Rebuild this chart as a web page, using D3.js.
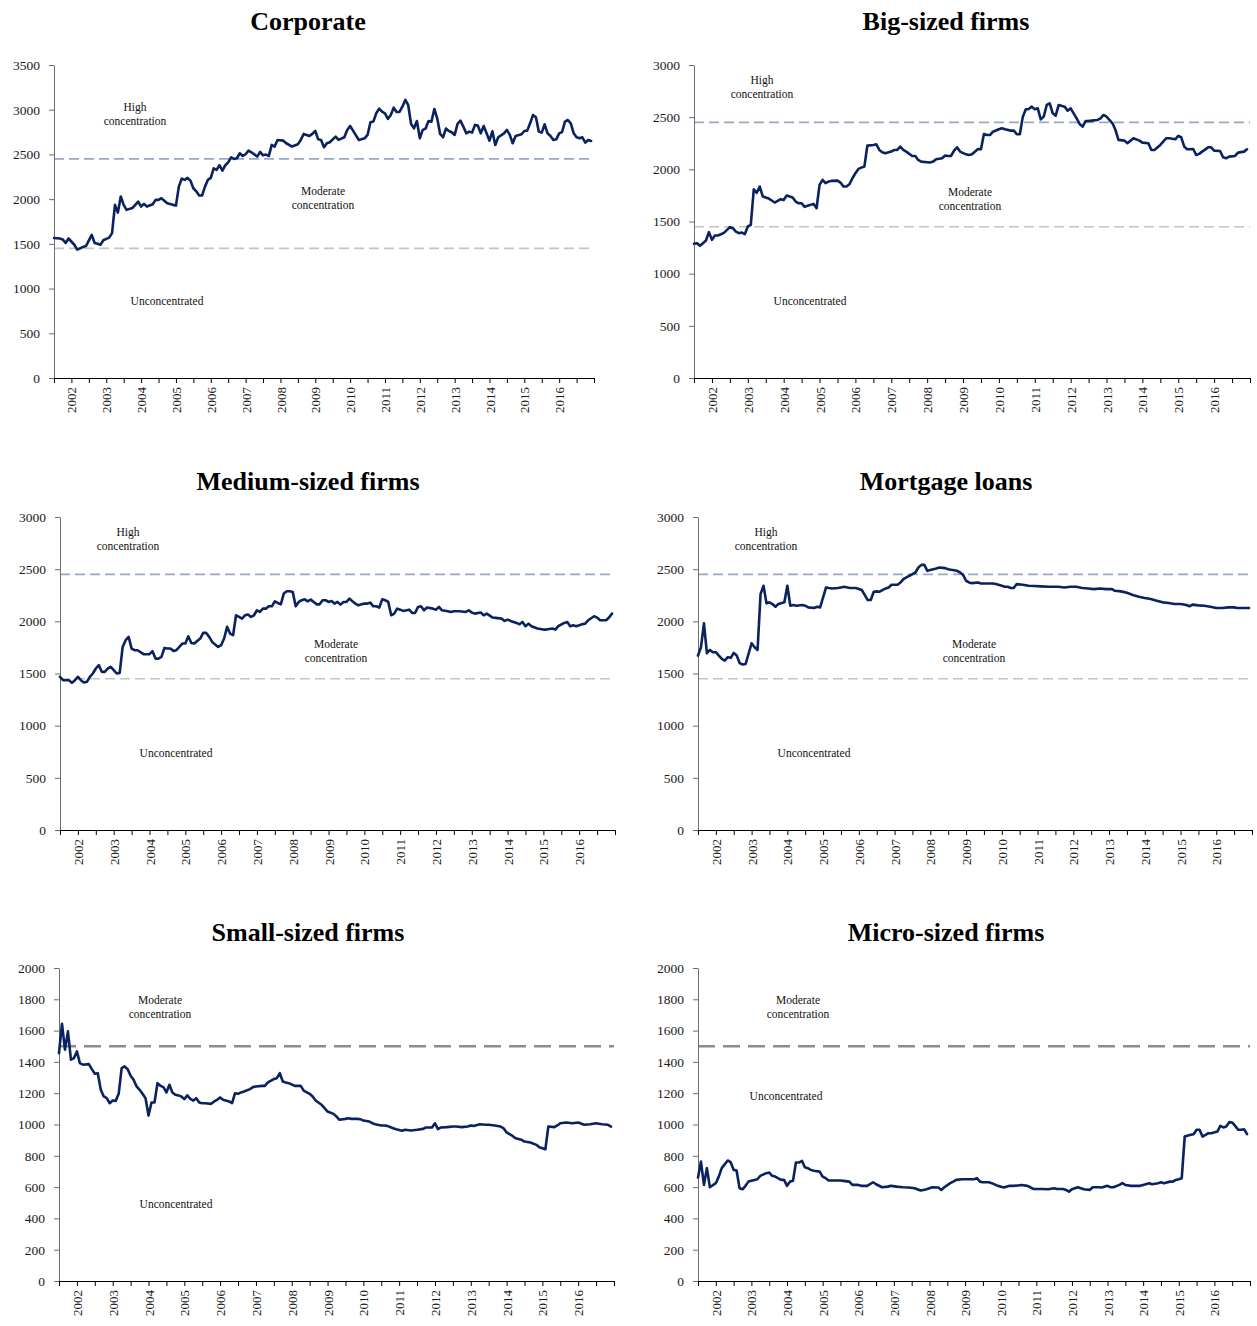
<!DOCTYPE html>
<html>
<head>
<meta charset="utf-8">
<script src="https://cdn.jsdelivr.net/npm/d3@7"></script>
<style>
  body { margin: 0; background: #fff; }
  svg { display: block; }
</style>
</head>
<body>
<svg id="chart" width="1257" height="1326"></svg>
<script>
// Monthly Herfindahl-Hirschman index by credit portfolio, July 2001 – December 2016.
// Each point is [months since July 2001, index value].
const monthCount = 186;
const yearLabels = [2002, 2003, 2004, 2005, 2006, 2007, 2008, 2009, 2010, 2011, 2012, 2013, 2014, 2015, 2016];

const corporate = [[0,1565],[2,1560],[3,1550],[4,1510],[5,1560],[7,1490],[8,1435],[10,1465],[11,1475],[13,1600],[14,1510],[15,1500],[16,1490],[17,1540],[18,1556],[19,1570],[20,1620],[21,1936],[22,1850],[23,2030],[24,1936],[25,1880],[27,1900],[29,1973],[30,1917],[31,1947],[32,1917],[34,1943],[35,1992],[36,1992],[37,2010],[39,1955],[41,1936],[42,1928],[43,2140],[44,2230],[45,2215],[46,2237],[47,2207],[48,2122],[49,2088],[50,2040],[51,2040],[52,2140],[53,2215],[54,2237],[55,2345],[56,2327],[57,2379],[58,2320],[59,2379],[60,2412],[61,2468],[62,2450],[63,2457],[64,2513],[65,2483],[66,2502],[67,2543],[68,2524],[70,2476],[71,2528],[72,2490],[73,2498],[74,2483],[75,2606],[76,2588],[77,2662],[79,2654],[80,2625],[82,2588],[84,2614],[85,2662],[86,2729],[88,2707],[89,2729],[90,2762],[91,2669],[92,2662],[93,2580],[94,2625],[95,2636],[97,2699],[98,2662],[100,2692],[101,2774],[102,2818],[103,2766],[105,2662],[107,2680],[108,2718],[109,2859],[110,2867],[111,2960],[112,3012],[113,2978],[114,2960],[115,2897],[116,2941],[117,3023],[118,2975],[119,2975],[120,3034],[121,3109],[122,3053],[123,2841],[124,2792],[125,2874],[126,2680],[127,2774],[128,2789],[129,2874],[130,2867],[131,3008],[132,2904],[133,2729],[134,2692],[135,2789],[136,2762],[137,2748],[138,2718],[139,2841],[140,2878],[141,2811],[142,2736],[143,2755],[144,2744],[145,2830],[146,2822],[147,2736],[148,2818],[149,2736],[150,2654],[151,2759],[152,2606],[153,2692],[155,2736],[156,2774],[157,2718],[158,2625],[159,2707],[161,2725],[162,2762],[163,2766],[164,2848],[165,2941],[166,2915],[167,2755],[168,2744],[169,2837],[170,2736],[171,2707],[172,2662],[173,2669],[174,2736],[175,2751],[176,2867],[177,2885],[178,2848],[179,2736],[180,2692],[181,2680],[182,2692],[183,2632],[184,2662],[185,2651]];

const bigFirms = [[0,1286],[1,1292],[2,1267],[3,1292],[4,1318],[5,1398],[6,1324],[7,1366],[8,1366],[9,1378],[10,1391],[12,1446],[13,1436],[14,1404],[15,1388],[16,1394],[17,1378],[18,1452],[19,1468],[20,1809],[21,1775],[22,1835],[23,1740],[25,1720],[26,1701],[27,1682],[29,1714],[30,1707],[31,1749],[32,1739],[33,1730],[34,1691],[35,1675],[36,1675],[37,1640],[38,1650],[40,1669],[41,1627],[42,1851],[43,1899],[44,1867],[45,1883],[46,1889],[48,1892],[49,1873],[50,1835],[51,1835],[52,1857],[53,1915],[54,1962],[55,2004],[56,2017],[57,2026],[58,2227],[60,2234],[61,2240],[62,2186],[63,2163],[64,2154],[66,2170],[67,2186],[68,2186],[69,2218],[70,2186],[71,2170],[73,2128],[74,2128],[75,2090],[76,2074],[78,2068],[79,2065],[80,2074],[81,2096],[83,2106],[84,2132],[85,2128],[86,2128],[87,2179],[88,2211],[89,2170],[91,2144],[92,2138],[93,2144],[95,2195],[96,2192],[97,2339],[98,2329],[99,2329],[100,2361],[102,2384],[103,2393],[104,2384],[106,2371],[107,2371],[108,2336],[109,2336],[110,2505],[111,2575],[112,2578],[113,2601],[114,2575],[115,2585],[116,2479],[117,2505],[118,2617],[119,2633],[120,2537],[121,2515],[122,2617],[124,2601],[125,2562],[126,2585],[127,2537],[128,2489],[129,2435],[130,2409],[131,2463],[132,2463],[133,2467],[135,2473],[136,2489],[137,2521],[138,2505],[140,2441],[141,2377],[142,2282],[144,2275],[145,2250],[147,2298],[149,2275],[150,2256],[152,2250],[153,2186],[154,2186],[156,2234],[158,2298],[159,2298],[161,2288],[162,2320],[163,2307],[164,2218],[165,2192],[167,2195],[168,2138],[169,2148],[170,2170],[172,2211],[173,2211],[174,2179],[176,2176],[177,2116],[178,2106],[179,2122],[181,2128],[182,2160],[184,2170],[185,2192]];

const mediumFirms = [[0,1468],[1,1436],[3,1436],[4,1410],[5,1436],[6,1468],[7,1436],[8,1414],[9,1420],[10,1468],[11,1500],[12,1548],[13,1580],[14,1516],[15,1516],[16,1548],[17,1564],[18,1532],[19,1500],[20,1506],[21,1755],[22,1819],[23,1851],[24,1739],[25,1723],[26,1723],[28,1685],[29,1685],[30,1685],[31,1714],[32,1643],[33,1643],[34,1659],[35,1745],[36,1739],[37,1739],[38,1717],[39,1723],[41,1787],[42,1787],[43,1857],[44,1793],[45,1787],[47,1835],[48,1889],[49,1889],[50,1851],[51,1803],[53,1755],[54,1771],[55,1835],[56,1947],[57,1883],[58,1867],[59,2058],[60,2042],[61,2026],[62,2058],[63,2065],[64,2042],[65,2058],[66,2106],[67,2090],[68,2122],[69,2122],[70,2144],[71,2144],[72,2192],[73,2176],[74,2163],[75,2266],[76,2288],[77,2288],[78,2282],[79,2144],[80,2186],[81,2202],[82,2211],[83,2192],[84,2208],[86,2163],[87,2163],[88,2202],[89,2202],[90,2186],[91,2195],[92,2170],[93,2186],[94,2160],[95,2186],[96,2186],[97,2218],[98,2192],[99,2170],[100,2154],[102,2170],[103,2170],[104,2179],[105,2144],[106,2144],[107,2132],[108,2211],[109,2202],[110,2186],[111,2058],[112,2074],[113,2122],[114,2112],[115,2100],[117,2112],[118,2080],[119,2080],[120,2138],[121,2144],[122,2106],[123,2132],[125,2122],[126,2112],[127,2138],[128,2106],[130,2096],[131,2090],[132,2096],[134,2096],[136,2090],[137,2106],[138,2084],[139,2074],[141,2084],[142,2058],[143,2074],[145,2036],[146,2033],[148,2026],[149,2004],[150,2017],[151,2004],[153,1985],[154,1972],[155,1994],[156,1953],[157,1978],[158,1953],[160,1931],[162,1921],[163,1921],[165,1931],[166,1921],[167,1953],[169,1985],[170,1994],[171,1953],[172,1962],[173,1953],[175,1972],[176,1978],[177,2010],[179,2049],[180,2036],[181,2010],[183,2010],[184,2036],[185,2074]];

const mortgage = [[0,1672],[1,1752],[2,1981],[3,1694],[4,1726],[5,1704],[6,1704],[7,1672],[8,1640],[9,1624],[10,1656],[11,1650],[12,1698],[13,1672],[14,1599],[15,1586],[16,1592],[18,1790],[19,1752],[20,1726],[21,2261],[22,2341],[23,2172],[24,2182],[25,2166],[26,2140],[27,2166],[29,2182],[30,2341],[31,2150],[32,2156],[33,2150],[35,2156],[36,2150],[37,2134],[39,2128],[40,2140],[41,2134],[43,2325],[44,2319],[45,2315],[47,2319],[48,2325],[49,2331],[51,2319],[52,2319],[53,2319],[55,2300],[56,2252],[57,2204],[58,2204],[59,2284],[60,2287],[61,2284],[63,2315],[64,2325],[65,2351],[67,2351],[68,2373],[69,2405],[71,2437],[72,2452],[73,2468],[74,2516],[75,2541],[76,2541],[77,2484],[79,2500],[80,2507],[81,2516],[83,2510],[84,2500],[85,2494],[87,2484],[88,2468],[89,2446],[90,2389],[91,2373],[92,2366],[94,2373],[95,2363],[96,2363],[98,2363],[99,2363],[100,2357],[102,2341],[103,2331],[104,2331],[105,2319],[106,2319],[107,2357],[109,2351],[111,2341],[113,2338],[115,2335],[118,2331],[121,2331],[123,2325],[125,2331],[127,2331],[129,2319],[131,2315],[133,2309],[135,2315],[137,2309],[139,2309],[140,2293],[142,2287],[144,2274],[146,2252],[148,2236],[150,2223],[152,2214],[154,2198],[156,2182],[158,2175],[160,2166],[162,2166],[164,2156],[165,2144],[166,2160],[168,2153],[170,2150],[172,2140],[174,2128],[176,2128],[178,2134],[180,2134],[181,2128],[183,2128],[185,2128]];

const smallFirms = [[0,1456],[1,1644],[2,1478],[3,1595],[4,1414],[5,1424],[6,1467],[7,1392],[8,1382],[10,1386],[11,1354],[12,1324],[13,1328],[14,1222],[15,1179],[16,1168],[17,1136],[18,1153],[19,1151],[20,1196],[21,1360],[22,1371],[23,1354],[24,1311],[25,1286],[26,1243],[27,1222],[28,1196],[29,1168],[30,1057],[31,1141],[32,1141],[33,1264],[34,1247],[35,1239],[36,1205],[37,1254],[38,1205],[39,1190],[40,1186],[41,1179],[42,1162],[43,1186],[44,1164],[45,1153],[46,1168],[47,1141],[48,1136],[49,1136],[51,1132],[52,1147],[53,1158],[54,1173],[55,1158],[57,1147],[58,1136],[59,1200],[60,1196],[61,1205],[62,1211],[64,1226],[65,1239],[66,1243],[68,1247],[69,1247],[70,1269],[72,1290],[73,1296],[74,1328],[75,1275],[76,1269],[77,1264],[79,1247],[80,1247],[81,1247],[82,1217],[84,1196],[85,1179],[86,1153],[88,1126],[89,1104],[90,1083],[92,1068],[93,1051],[94,1030],[96,1036],[97,1040],[98,1036],[100,1036],[101,1034],[102,1025],[104,1019],[105,1008],[106,1002],[108,994],[109,994],[110,991],[112,976],[113,970],[115,960],[116,966],[118,962],[120,966],[122,972],[123,981],[125,981],[126,1008],[127,970],[128,981],[130,983],[132,987],[133,987],[135,983],[137,987],[138,994],[139,991],[141,1002],[143,998],[144,998],[146,994],[148,987],[149,976],[150,949],[152,927],[153,912],[155,902],[156,891],[158,885],[160,870],[161,855],[163,842],[164,987],[166,983],[167,994],[168,1008],[170,1013],[172,1008],[174,1013],[176,998],[178,1002],[180,1008],[182,1002],[184,998],[185,987]];

const microFirms = [[0,661],[1,763],[2,614],[3,721],[4,599],[6,625],[7,667],[8,721],[10,770],[11,759],[12,710],[13,706],[14,593],[15,586],[16,608],[17,635],[19,646],[20,650],[21,672],[23,689],[24,693],[25,672],[26,667],[28,646],[29,646],[30,608],[31,635],[32,640],[33,757],[34,757],[35,768],[36,727],[37,721],[38,710],[39,704],[41,699],[42,667],[43,657],[44,642],[46,642],[48,642],[49,640],[51,635],[52,614],[54,614],[55,608],[57,608],[59,631],[60,618],[62,599],[64,603],[65,608],[67,603],[69,599],[71,597],[73,593],[75,578],[76,582],[77,586],[79,599],[81,597],[82,582],[83,599],[85,625],[86,635],[87,646],[89,650],[90,650],[91,650],[93,650],[94,657],[95,635],[96,631],[98,631],[99,625],[101,608],[102,603],[103,597],[105,608],[106,608],[108,610],[109,614],[111,608],[112,599],[113,588],[115,588],[116,588],[118,586],[120,593],[121,588],[123,588],[124,582],[125,571],[126,586],[128,599],[129,593],[130,586],[132,582],[133,599],[135,599],[136,597],[138,608],[139,599],[140,599],[142,614],[143,625],[144,614],[146,608],[147,608],[149,608],[150,614],[152,625],[153,618],[155,625],[156,631],[157,625],[159,635],[160,635],[161,646],[162,650],[163,657],[164,923],[166,934],[167,938],[168,966],[169,966],[170,923],[171,934],[172,944],[173,944],[175,955],[176,991],[177,981],[178,987],[179,1015],[180,1013],[181,991],[182,966],[183,966],[184,970],[185,938]];

// Concentration thresholds shown as dashed reference lines
const thresholdsHigh = [2450, 1450];
const thresholdsSmall = [1500];

// Panel layout: plot frame in page pixels and annotation offsets inside the frame
const panels = [
  { title: "Corporate", series: corporate, yMax: 3500, yStep: 500, thresholds: thresholdsHigh,
    frame: { left: 54, right: 594, top: 65, bottom: 378 }, titleX: 308, titleY: 30,
    notes: [ { lines: ["High", "concentration"], dx: 81, dy: 49 },
             { lines: ["Moderate", "concentration"], dx: 269, dy: 133 },
             { lines: ["Unconcentrated"], dx: 113, dy: 236 } ] },
  { title: "Big-sized firms", series: bigFirms, yMax: 3000, yStep: 500, thresholds: thresholdsHigh,
    frame: { left: 694, right: 1250, top: 65, bottom: 378 }, titleX: 946, titleY: 30,
    notes: [ { lines: ["High", "concentration"], dx: 68, dy: 22 },
             { lines: ["Moderate", "concentration"], dx: 276, dy: 134 },
             { lines: ["Unconcentrated"], dx: 116, dy: 236 } ] },
  { title: "Medium-sized firms", series: mediumFirms, yMax: 3000, yStep: 500, thresholds: thresholdsHigh,
    frame: { left: 60, right: 615, top: 517, bottom: 830 }, titleX: 308, titleY: 490,
    notes: [ { lines: ["High", "concentration"], dx: 68, dy: 22 },
             { lines: ["Moderate", "concentration"], dx: 276, dy: 134 },
             { lines: ["Unconcentrated"], dx: 116, dy: 236 } ] },
  { title: "Mortgage loans", series: mortgage, yMax: 3000, yStep: 500, thresholds: thresholdsHigh,
    frame: { left: 698, right: 1252, top: 517, bottom: 830 }, titleX: 946, titleY: 490,
    notes: [ { lines: ["High", "concentration"], dx: 68, dy: 22 },
             { lines: ["Moderate", "concentration"], dx: 276, dy: 134 },
             { lines: ["Unconcentrated"], dx: 116, dy: 236 } ] },
  { title: "Small-sized firms", series: smallFirms, yMax: 2000, yStep: 200, thresholds: thresholdsSmall,
    frame: { left: 59, right: 614, top: 968, bottom: 1281 }, titleX: 308, titleY: 941,
    notes: [ { lines: ["Moderate", "concentration"], dx: 101, dy: 39 },
             { lines: ["Unconcentrated"], dx: 117, dy: 236 } ] },
  { title: "Micro-sized firms", series: microFirms, yMax: 2000, yStep: 200, thresholds: thresholdsSmall,
    frame: { left: 698, right: 1250, top: 968, bottom: 1281 }, titleX: 946, titleY: 941,
    notes: [ { lines: ["Moderate", "concentration"], dx: 100, dy: 39 },
             { lines: ["Unconcentrated"], dx: 88, dy: 128 } ] }
];

const svg = d3.select("#chart");
const serifFont = "'Liberation Serif', 'Times New Roman', serif";

// year label for a January tick, empty for July ticks and past the last year
function yearLabelAt(m) {
  if ((m - 6) % 12 !== 0) return "";
  const k = (m - 6) / 12;
  return k >= 0 && k < yearLabels.length ? String(yearLabels[k]) : "";
}

panels.forEach(p => {
  const f = p.frame;
  const x = d3.scaleLinear().domain([0, monthCount]).range([f.left, f.right]);
  const y = d3.scaleLinear().domain([0, p.yMax]).range([f.bottom, f.top]);
  const g = svg.append("g");

  // title
  g.append("text")
    .attr("x", p.titleX).attr("y", p.titleY)
    .attr("text-anchor", "middle")
    .style("font-family", serifFont).style("font-weight", "bold").style("font-size", "26px")
    .attr("fill", "#000")
    .text(p.title);

  // threshold lines
  p.thresholds.forEach((v, i) => {
    const single = p.thresholds.length === 1;
    g.append("line")
      .attr("x1", f.left).attr("x2", f.right)
      .attr("y1", y(v)).attr("y2", y(v))
      .attr("stroke", single ? "#8c8c8c" : (i === 0 ? "#97a6c9" : "#c4c4c4"))
      .attr("stroke-width", single ? 2.6 : 1.6)
      .attr("stroke-dasharray", single ? "17,8" : "10,5");
  });

  // y axis
  const yAxis = d3.axisLeft(y)
    .tickValues(d3.range(0, p.yMax + 1, p.yStep))
    .tickFormat(d3.format("d"))
    .tickSize(5).tickSizeOuter(0).tickPadding(9);
  const ya = g.append("g").attr("transform", `translate(${f.left},0)`).call(yAxis);
  ya.select(".domain").attr("stroke", "#6e6e6e");
  ya.selectAll(".tick line").attr("stroke", "#6e6e6e");
  ya.selectAll("text").style("font-family", serifFont).style("font-size", "13.5px").attr("fill", "#1a1a1a");

  // x axis: half-year ticks, year labels every January
  const xAxis = d3.axisBottom(x)
    .tickValues(d3.range(0, monthCount + 1, 6))
    .tickSize(5).tickSizeOuter(0)
    .tickFormat(yearLabelAt);
  const xa = g.append("g").attr("transform", `translate(0,${f.bottom})`).call(xAxis);
  xa.select(".domain").attr("stroke", "#000");
  xa.selectAll(".tick line").attr("stroke", "#000");
  xa.selectAll("text")
    .attr("transform", "rotate(-90)")
    .attr("x", -9).attr("y", 0).attr("dy", "0.35em")
    .attr("text-anchor", "end")
    .style("font-family", serifFont).style("font-size", "13px").attr("fill", "#1a1a1a");

  // annotations for concentration zones
  p.notes.forEach(n => {
    const t = g.append("text")
      .attr("text-anchor", "middle")
      .style("font-family", serifFont).style("font-size", "11.5px").attr("fill", "#111");
    const startY = f.top + n.dy - (n.lines.length - 1) * 7;
    n.lines.forEach((ln, k) => {
      t.append("tspan").attr("x", f.left + n.dx).attr("y", startY + k * 14).attr("dy", "0.35em").text(ln);
    });
  });

  // the index series
  const line = d3.line().x(d => x(d[0])).y(d => y(d[1]));
  g.append("path")
    .datum(p.series)
    .attr("d", line)
    .attr("fill", "none")
    .attr("stroke", "#0b2260")
    .attr("stroke-width", 2.6)
    .attr("stroke-linejoin", "round")
    .attr("stroke-linecap", "round");
});
</script>
</body>
</html>
